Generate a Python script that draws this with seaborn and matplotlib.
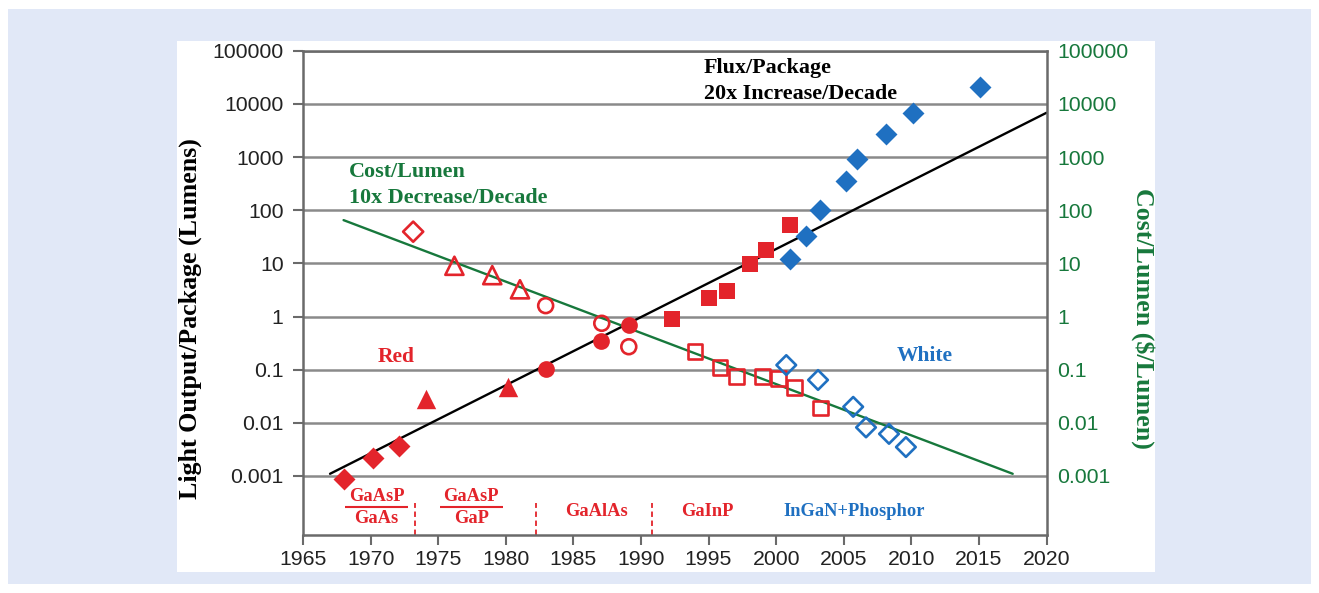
import matplotlib
matplotlib.use("Agg")
import matplotlib.pyplot as plt
from matplotlib.patches import Rectangle
from matplotlib.ticker import FixedLocator, NullLocator, FixedFormatter
import seaborn as sns

# ---------------- data ----------------
# Flux / package (filled markers)
red_diamond_years = [1968.0, 1970.2, 1972.1]
red_diamond_flux = [0.00087, 0.0022, 0.0037]
red_triangle_years = [1974.1, 1980.2]
red_triangle_flux = [0.028, 0.047]
red_circle_years = [1983.0, 1987.05, 1989.15]
red_circle_flux = [0.103, 0.346, 0.69]
red_square_years = [1992.3, 1995.0, 1996.4, 1998.1, 1999.25, 2001.0]
red_square_flux = [0.9, 2.26, 3.06, 9.7, 17.8, 52]
blue_diamond_years = [2001.0, 2002.2, 2003.25, 2005.2, 2005.95, 2008.1, 2010.1, 2015.1]
blue_diamond_flux = [12.2, 32.7, 100, 359, 906, 2710, 6820, 20500]

# Cost / lumen (open markers)
red_open_diamond_years = [1973.15]
red_open_diamond_cost = [39.4]
red_open_triangle_years = [1976.2, 1979.0, 1981.05]
red_open_triangle_cost = [9.0, 6.0, 3.25]
red_open_circle_years = [1982.95, 1987.1, 1989.1]
red_open_circle_cost = [1.6, 0.745, 0.27]
red_open_square_years = [1994.0, 1995.85, 1997.1, 1999.0, 2000.2, 2001.35, 2003.25]
red_open_square_cost = [0.218, 0.111, 0.074, 0.074, 0.068, 0.047, 0.019]
blue_open_diamond_years = [2000.75, 2003.1, 2005.7, 2006.65, 2008.35, 2009.6]
blue_open_diamond_cost = [0.122, 0.064, 0.020, 0.0082, 0.0062, 0.0035]

# Trend lines
flux_trend_years = [1967.0, 2020.0]
flux_trend_values = [0.0011, 6800]
cost_trend_years = [1968.0, 2017.5]
cost_trend_values = [65, 0.0011]

# Axes / labels
x_ticks = [1965, 1970, 1975, 1980, 1985, 1990, 1995, 2000, 2005, 2010, 2015, 2020]
y_ticks = [0.001, 0.01, 0.1, 1, 10, 100, 1000, 10000, 100000]
y_tick_labels = ["0.001", "0.01", "0.1", "1", "10", "100", "1000", "10000", "100000"]
material_boundaries = [1973.3, 1982.2, 1990.8]
material_single = ["GaAlAs", "GaInP", "InGaN+Phosphor"]
material_single_x = [1986.7, 1994.9, 2005.8]
material_fraction = [("GaAsP", "GaAs"), ("GaAsP", "GaP")]
material_fraction_x = [1970.45, 1977.45]
fraction_spans = [(1968.1, 1972.8), (1975.1, 1979.8)]

# ---------------- style ----------------
sns.set_theme(style="white")
plt.rcParams['font.family'] = ['Liberation Sans', 'DejaVu Sans']

RED = '#e3242b'
BLUE = '#1f70c1'
GREEN = '#17783c'
GRID = '#8a8a8a'
SPINE = '#6a6a6a'
SERIF = ['Liberation Serif', 'DejaVu Serif']

W, H = 1319, 593
fig = plt.figure(figsize=(W / 100, H / 100), dpi=100)
fig.patch.set_facecolor('white')
fig.add_artist(Rectangle((8 / W, 9 / H), 1303 / W, 575 / H, transform=fig.transFigure,
                         facecolor='#e1e8f7', edgecolor='none', zorder=-10))
fig.add_artist(Rectangle((177 / W, 1 - 571.7 / H), 978 / W, 531 / H, transform=fig.transFigure,
                         facecolor='white', edgecolor='none', zorder=-9))

left, right, top, bottom = 303, 1046.5, 50.7, 535
ax = fig.add_axes([left / W, 1 - bottom / H, (right - left) / W, (bottom - top) / H])
ax.set_facecolor('white')
ax.set_yscale('log')
YMIN, YMAX = 10 ** -4.11, 1e5
ax.set_xlim(1965, 2020)
ax.set_ylim(YMIN, YMAX)

# trend lines
sns.lineplot(x=flux_trend_years, y=flux_trend_values, color='black', linewidth=1.7, ax=ax, zorder=2)
sns.lineplot(x=cost_trend_years, y=cost_trend_values, color=GREEN, linewidth=1.7, ax=ax, zorder=2)


def filled(xs, ys, marker, color, size):
    sns.scatterplot(x=xs, y=ys, marker=marker, s=size, color=color, edgecolor=color,
                    linewidth=0, ax=ax, zorder=3)


def hollow(xs, ys, marker, color, size):
    sns.scatterplot(x=xs, y=ys, marker=marker, s=size, color=color, facecolor='none',
                    edgecolor=color, linewidth=1.9, ax=ax, zorder=3)


filled(red_diamond_years, red_diamond_flux, 'D', RED, 125)
filled(red_triangle_years, red_triangle_flux, '^', RED, 195)
filled(red_circle_years, red_circle_flux, 'o', RED, 145)
filled(red_square_years, red_square_flux, 's', RED, 135)
filled(blue_diamond_years, blue_diamond_flux, 'D', BLUE, 125)

hollow(red_open_diamond_years, red_open_diamond_cost, 'D', RED, 105)
hollow(red_open_triangle_years, red_open_triangle_cost, '^', RED, 170)
hollow(red_open_circle_years, red_open_circle_cost, 'o', RED, 115)
hollow(red_open_square_years, red_open_square_cost, 's', RED, 115)
hollow(blue_open_diamond_years, blue_open_diamond_cost, 'D', BLUE, 100)

# axes styling
ax.xaxis.set_major_locator(FixedLocator(x_ticks))
ax.xaxis.set_minor_locator(NullLocator())
ax.yaxis.set_major_locator(FixedLocator(y_ticks))
ax.yaxis.set_major_formatter(FixedFormatter(y_tick_labels))
ax.yaxis.set_minor_locator(NullLocator())
ax.tick_params(axis='both', which='major', direction='out', length=7, width=1.5,
               color=SPINE, labelsize=15.3, labelcolor='#222222')
ax.tick_params(axis='y', pad=7, left=True)
ax.tick_params(axis='x', pad=4, bottom=True)
ax.grid(False)
ax.yaxis.grid(True, color=GRID, linewidth=1.8)
ax.set_axisbelow(True)
for sp in ax.spines.values():
    sp.set_visible(True)
    sp.set_color(SPINE)
    sp.set_linewidth(1.8)
    sp.set_zorder(2.5)
ax.set_xlabel('')
ax.set_ylabel('Light Output/Package (Lumens)', fontfamily=SERIF, fontweight='bold',
              fontsize=18.7, color='black', va='center')
ax.yaxis.set_label_coords(-0.152, 0.447)

# right axis (cost)
ax2 = ax.twinx()
ax2.set_yscale('log')
ax2.set_ylim(YMIN, YMAX)
ax2.yaxis.set_major_locator(FixedLocator(y_ticks))
ax2.yaxis.set_major_formatter(FixedFormatter(y_tick_labels))
ax2.yaxis.set_minor_locator(NullLocator())
ax2.tick_params(axis='y', length=0, pad=7.5, labelsize=15.3, labelcolor=GREEN, right=True)
ax2.grid(False)
for sp in ax2.spines.values():
    sp.set_visible(False)
ax2.set_ylabel('Cost/Lumen ($/Lumen)', fontfamily=SERIF, fontweight='bold', fontsize=18.7,
               color=GREEN, rotation=270, va='center')
ax2.yaxis.set_label_coords(1.1298, 0.447)

# annotations
txt = dict(fontfamily=SERIF, fontweight='bold')
ax.text(1994.63, 10 ** 4.675, 'Flux/Package', color='black', fontsize=15.8, ha='left', va='center', **txt)
ax.text(1994.63, 10 ** 4.185, '20x Increase/Decade', color='black', fontsize=15.8, ha='left', va='center', **txt)
ax.text(1968.4, 10 ** 2.724, 'Cost/Lumen', color=GREEN, fontsize=15.9, ha='left', va='center', **txt)
ax.text(1968.4, 10 ** 2.223, '10x Decrease/Decade', color=GREEN, fontsize=15.9, ha='left', va='center', **txt)
ax.text(1971.9, 10 ** -0.756, 'Red', color=RED, fontsize=15.5, ha='center', va='center', **txt)
ax.text(2011.0, 10 ** -0.743, 'White', color=BLUE, fontsize=15.5, ha='center', va='center', **txt)

for (top_t, bot_t), xc in zip(material_fraction, material_fraction_x):
    ax.text(xc, 10 ** -3.39, top_t, color=RED, fontsize=13.3, ha='center', va='center', **txt)
    ax.text(xc, 10 ** -3.80, bot_t, color=RED, fontsize=13.3, ha='center', va='center', **txt)
for x0, x1 in fraction_spans:
    ax.hlines(10 ** -3.589, x0, x1, color=RED, linewidth=1.5)
for name, xc in zip(material_single, material_single_x):
    col = BLUE if 'InGaN' in name else RED
    ax.text(xc, 10 ** -3.672, name, color=col, fontsize=13.3, ha='center', va='center', **txt)
ax.vlines(material_boundaries, YMIN, 10 ** -3.51, color=RED, linewidth=1.3,
          linestyles=(0, (3, 2)))

fig.savefig('out.png', dpi=100, facecolor=fig.get_facecolor())
